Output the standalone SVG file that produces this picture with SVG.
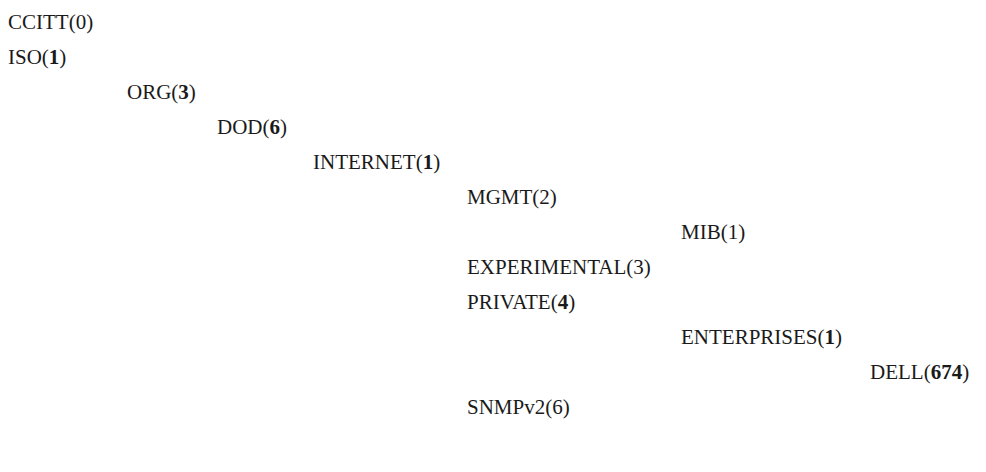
<svg xmlns="http://www.w3.org/2000/svg" width="986" height="472" viewBox="0 0 986 472">
<style>
text{font-family:"Liberation Serif","Times New Roman",serif;font-size:21px;fill:#1a1a1a}
.b{font-weight:bold}
</style>
<rect width="986" height="472" fill="#fff"/>
<g id="connectors"></g>
<g id="ccitt"><text x="8" y="29">CCITT(0)</text></g>
<g id="iso"><text x="8" y="64">ISO(<tspan class="b">1</tspan>)</text></g>
<g id="org"><text x="127" y="99">ORG(<tspan class="b">3</tspan>)</text></g>
<g id="dod"><text x="217" y="134">DOD(<tspan class="b">6</tspan>)</text></g>
<g id="internet"><text x="313" y="169">INTERNET(<tspan class="b">1</tspan>)</text></g>
<g id="mgmt"><text x="467" y="204">MGMT(2)</text></g>
<g id="mib"><text x="681" y="239">MIB(1)</text></g>
<g id="experimental"><text x="467" y="274">EXPERIMENTAL(3)</text></g>
<g id="private"><text x="467" y="309">PRIVATE(<tspan class="b">4</tspan>)</text></g>
<g id="enterprises"><text x="681" y="344">ENTERPRISES(<tspan class="b">1</tspan>)</text></g>
<g id="dell"><text x="870" y="379">DELL(<tspan class="b">674</tspan>)</text></g>
<g id="snmpv2"><text x="467" y="414">SNMPv2(6)</text></g>
</svg>
